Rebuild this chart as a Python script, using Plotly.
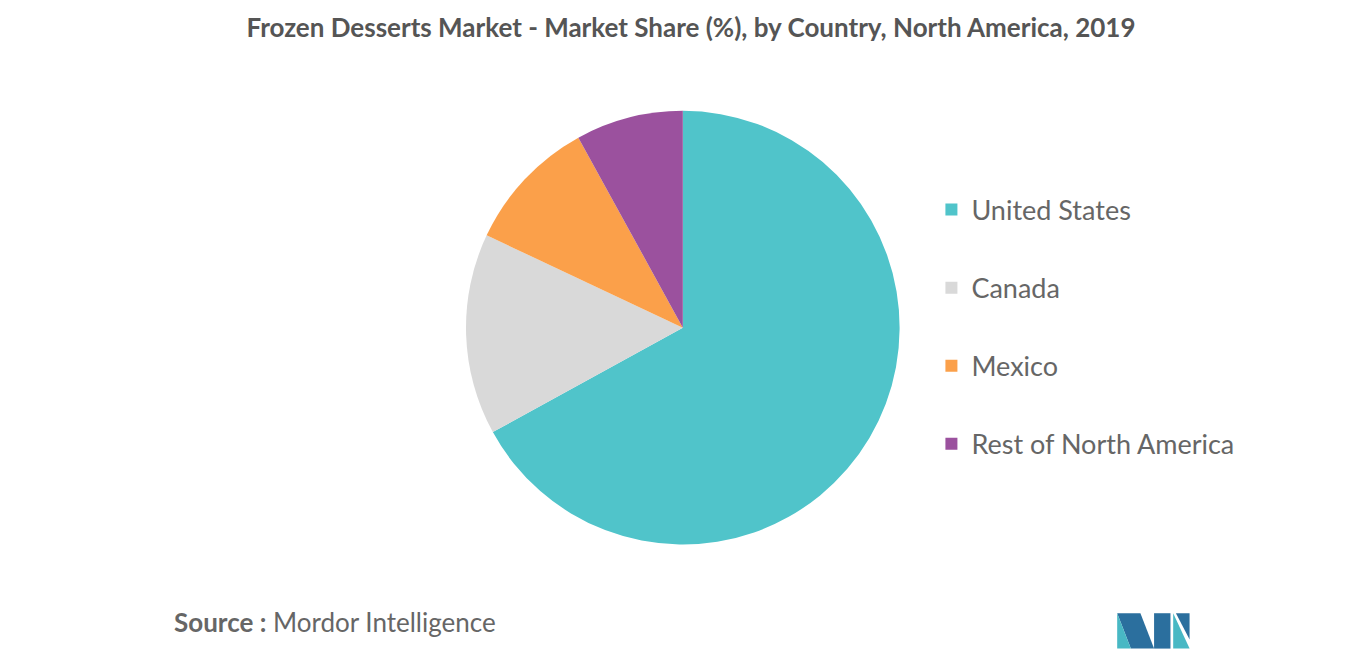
import plotly.graph_objects as go

countries = ["United States", "Canada", "Mexico", "Rest of North America"]
shares = [67, 15, 10, 8]
colors = ["#50c4ca", "#d9d9d9", "#fba04a", "#9b519e"]

fig = go.Figure(go.Pie(
    labels=countries, values=shares, sort=False, direction="clockwise",
    rotation=0, textinfo="none", hoverinfo="label+percent", showlegend=False,
    marker=dict(colors=colors, line=dict(width=0)),
    domain=dict(x=[0.335, 0.653], y=[0.181, 0.843]),
))

# legend entries as separate traces so the spacing can match
for name, c in zip(countries, colors):
    fig.add_trace(go.Scatter(x=[None], y=[None], mode="markers", name=name,
                             legendgroup=name,
                             marker=dict(symbol="square", size=14, color=c)))

fig.update_layout(
    width=1366, height=655, margin=dict(l=0, r=0, t=0, b=0),
    paper_bgcolor="white", plot_bgcolor="white",
    xaxis=dict(visible=False), yaxis=dict(visible=False),
    font=dict(family="Lato, Open Sans, sans-serif", color="#555555"),
    title=dict(text="<b>Frozen Desserts Market - Market Share (%), by Country, North America, 2019</b>",
               x=0.5, xanchor="center", y=0.969, yanchor="middle",
               font=dict(size=26, color="#555555")),
    legend=dict(x=0.676, xanchor="left", y=0.513, yanchor="middle",
                font=dict(size=27, color="#666666"), tracegroupgap=40,
                itemsizing="constant", traceorder="grouped"),
    annotations=[dict(text="<b>Source :</b> Mordor Intelligence", x=0.12, xanchor="left",
                      y=0.062, yanchor="middle", xref="paper", yref="paper",
                      showarrow=False, font=dict(size=26, color="#666666"))],
    shapes=[
        dict(type="path", xref="paper", yref="paper", fillcolor="#2b6f9e", line=dict(width=0),
             path="M 0.812 0.076 L 0.829 0.076 L 0.839 0.022 L 0.822 0.022 Z"),
        dict(type="path", xref="paper", yref="paper", fillcolor="#48b8c4", line=dict(width=0),
             path="M 0.812 0.076 L 0.812 0.022 L 0.822 0.022 Z"),
        dict(type="path", xref="paper", yref="paper", fillcolor="#2b6f9e", line=dict(width=0),
             path="M 0.839 0.076 L 0.851 0.076 L 0.851 0.022 L 0.839 0.022 Z"),
        dict(type="path", xref="paper", yref="paper", fillcolor="#48b8c4", line=dict(width=0),
             path="M 0.853 0.076 L 0.865 0.022 L 0.853 0.022 Z"),
        dict(type="path", xref="paper", yref="paper", fillcolor="#2b6f9e", line=dict(width=0),
             path="M 0.855 0.076 L 0.865 0.076 L 0.865 0.036 Z"),
    ],
)

fig.write_html("out.html")
